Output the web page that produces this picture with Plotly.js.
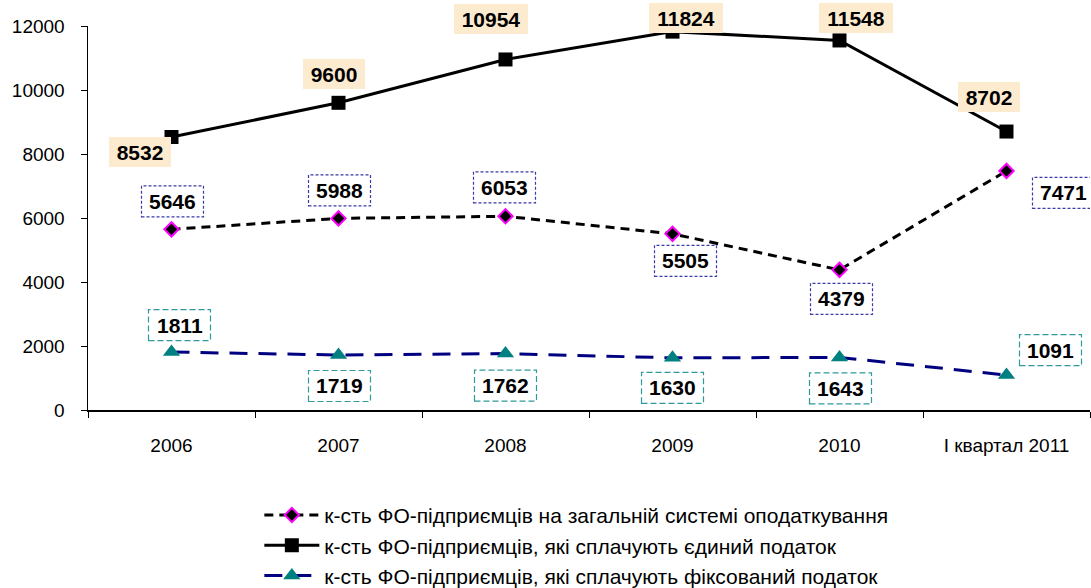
<!DOCTYPE html>
<html>
<head>
<meta charset="utf-8">
<script src="https://cdn.plot.ly/plotly-3.0.1.min.js"></script>
<style>html,body{margin:0;padding:0;background:#fff;}#chart{width:1091px;height:588px;}</style>
</head>
<body>
<div id="chart"></div>
<script>
const categories = ["2006", "2007", "2008", "2009", "2010", "І квартал 2011"];
const seriesNames = [
  "к-сть ФО-підприємців на загальній системі оподаткування",
  "к-сть ФО-підприємців, які сплачують єдиний податок",
  "к-сть ФО-підприємців, які сплачують фіксований податок"
];
const generalSystem = [5646, 5988, 6053, 5505, 4379, 7471];
const singleTax = [8532, 9600, 10954, 11824, 11548, 8702];
const fixedTax = [1811, 1719, 1762, 1630, 1643, 1091];

// label offsets in pixels relative to each point (dx, dy up)
const offGeneral = [[1,28],[1,28],[-1,29],[13,-27],[2,-29],[57,-22]];
const offSingle = [[-32,-15],[-5,29],[-15,40],[13,14],[16,22],[-18,35]];
const offFixed = [[8,27],[1,-31],[0,-32],[0,-30],[1,-31],[44,25]];

const FONT = "Liberation Sans, Arial, sans-serif";

const traces = [
  {
    x: categories, y: generalSystem, name: seriesNames[0], type: "scatter", mode: "lines+markers",
    line: {color: "#000000", width: 3, dash: "9px,6px"},
    marker: {symbol: "diamond", size: 11, color: "#000000", line: {color: "#FF00FF", width: 2}}
  },
  {
    x: categories, y: singleTax, name: seriesNames[1], type: "scatter", mode: "lines+markers",
    line: {color: "#000000", width: 3},
    marker: {symbol: "square", size: 14, color: "#000000"}
  },
  {
    x: categories, y: fixedTax, name: seriesNames[2], type: "scatter", mode: "lines+markers",
    line: {color: "#000080", width: 3, dash: "18px,11px"},
    marker: {symbol: "triangle-up", size: 15, color: "#008080"}
  }
];

const annotations = [];
const shapes = [];
function addLabels(vals, offs, style) {
  vals.forEach((v, i) => {
    const [dx, dy] = offs[i];
    const txt = String(v);
    const w = txt.length > 4 ? 74 : 62;
    const h = style.h;
    if (style.fill) {
      annotations.push({
        x: i, y: v, xref: "x", yref: "y", text: "<b>" + txt + "</b>", showarrow: false,
        xshift: dx, yshift: dy, font: {family: FONT, size: 21, color: "#000000"},
        xanchor: "center", yanchor: "middle", bgcolor: style.fill, borderpad: 0, borderwidth: 0,
        width: w, height: h
      });
      return;
    }
    shapes.push({
      type: "rect", layer: "above", xref: "x", yref: "y",
      xsizemode: "pixel", ysizemode: "pixel", xanchor: i, yanchor: v,
      x0: dx - w / 2, x1: dx + w / 2, y0: dy - h / 2, y1: dy + h / 2,
      fillcolor: "#ffffff", line: style.line
    });
    annotations.push({
      x: i, y: v, xref: "x", yref: "y", text: "<b>" + txt + "</b>", showarrow: false,
      xshift: dx, yshift: dy, font: {family: FONT, size: 21, color: "#000000"},
      xanchor: "center", yanchor: "middle"
    });
  });
}
addLabels(singleTax, offSingle, {h: 30, fill: "#FDEBD0"});
addLabels(generalSystem, offGeneral, {h: 31, line: {color: "#3A3AA8", width: 1.2, dash: "3px,2px"}});
addLabels(fixedTax, offFixed, {h: 31, line: {color: "#2E9A9A", width: 1.2, dash: "6px,3px"}});

const layout = {
  width: 1091, height: 588,
  margin: {l: 88, r: 1, t: 26, b: 178, autoexpand: false},
  paper_bgcolor: "#ffffff", plot_bgcolor: "#ffffff",
  font: {family: FONT, color: "#000000"},
  showlegend: true,
  legend: {
    orientation: "v", x: 0.171, y: -0.221, xanchor: "left", yanchor: "top",
    font: {family: FONT, size: 21, color: "#000000"}, traceorder: "normal",
    itemwidth: 55, bgcolor: "rgba(0,0,0,0)"
  },
  xaxis: {
    type: "category", range: [-0.5, 5.5], showgrid: false, zeroline: false,
    showline: true, linecolor: "#000000", linewidth: 1.5,
    ticks: "outside", tickson: "boundaries", ticklen: 6, tickcolor: "#000000",
    tickfont: {family: FONT, size: 19, color: "#000000"}, ticklabelstandoff: 18
  },
  yaxis: {
    range: [0, 12000], dtick: 2000, tickformat: "d", showgrid: false, zeroline: false,
    showline: true, linecolor: "#000000", linewidth: 1.5,
    ticks: "outside", ticklen: 6, tickcolor: "#000000",
    tickfont: {family: FONT, size: 19, color: "#000000"}, ticklabelstandoff: 12
  },
  shapes: shapes,
  annotations: annotations
};

Plotly.newPlot("chart", traces, layout, {displayModeBar: false, staticPlot: true});
</script>
</body>
</html>
